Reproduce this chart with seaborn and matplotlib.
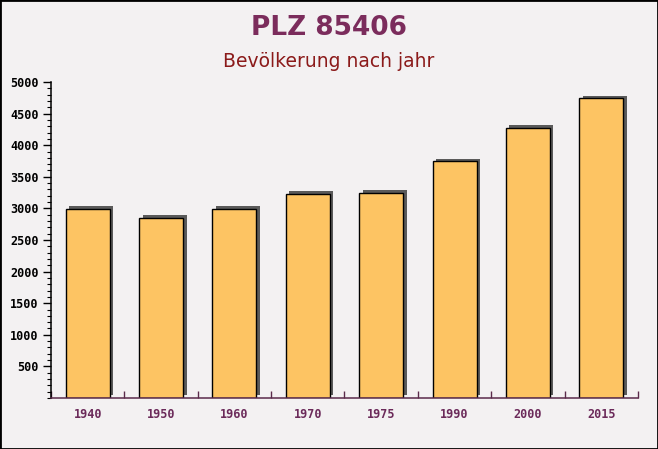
import matplotlib
matplotlib.use("Agg")
import matplotlib.pyplot as plt
import matplotlib.patheffects as pe
from matplotlib.ticker import MultipleLocator, FixedLocator
import seaborn as sns
import pandas as pd

years = ["1940", "1950", "1960", "1970", "1975", "1990", "2000", "2015"]
population = [2990, 2855, 2995, 3230, 3245, 3745, 4270, 4740]
y_ticks = [500, 1000, 1500, 2000, 2500, 3000, 3500, 4000, 4500, 5000]

df = pd.DataFrame({"Jahr": years, "Bevölkerung": population})

sns.set_theme(style="white")
plt.rcParams['font.family'] = ['DejaVu Sans']

bg = "#f3f1f2"
fig = plt.figure(figsize=(6.58, 4.49), dpi=100, facecolor=bg)
ax = fig.add_axes([0.0775, 0.1136, 0.892, 0.7038])
ax.set_facecolor(bg)

sns.barplot(data=df, x="Jahr", y="Bevölkerung", ax=ax, color="#fdc463",
            width=0.6, edgecolor="black", linewidth=1.0, saturation=1)
for p in ax.patches:
    p.set_path_effects([pe.SimplePatchShadow(offset=(2.5, 2.0), shadow_rgbFace="#5a5a5a", alpha=1.0),
                        pe.Normal()])

ax.set_ylim(0, 5000)
ax.set_xlim(-0.5, len(years) - 0.5)
ax.set_xlabel("")
ax.set_ylabel("")
ax.yaxis.set_major_locator(FixedLocator(y_ticks))
ax.yaxis.set_minor_locator(MultipleLocator(100))
ax.tick_params(axis="y", which="major", direction="out", length=6, width=1, color="black",
               left=True, labelsize=8.5, labelcolor="black", pad=3)
ax.tick_params(axis="y", which="minor", direction="out", length=3, width=0.8, color="black", left=True)
for lab in ax.get_yticklabels():
    lab.set_fontfamily("DejaVu Sans Mono")
    lab.set_fontweight("bold")

ax.xaxis.set_minor_locator(FixedLocator([i - 0.5 for i in range(len(years) + 1)]))
ax.tick_params(axis="x", which="major", length=0, labelsize=8.5, labelcolor="#6b2a5a", pad=7)
ax.tick_params(axis="x", which="minor", direction="in", length=5, width=1, color="#5a2a4a", bottom=True)
for lab in ax.get_xticklabels():
    lab.set_fontfamily("DejaVu Sans Mono")
    lab.set_fontweight("bold")

for s in ["top", "right"]:
    ax.spines[s].set_visible(False)
ax.spines["left"].set_color("black")
ax.spines["left"].set_linewidth(1.1)
ax.spines["bottom"].set_color("#5a2a4a")
ax.spines["bottom"].set_linewidth(1.1)

fig.text(0.5, 0.937, "PLZ 85406", ha="center", va="center", fontsize=19, fontweight="bold",
         color="#7b2c5c")
fig.text(0.5, 0.862, "Bevölkerung nach jahr", ha="center", va="center", fontsize=13.5,
         color="#8b1a1a")

fig.patches.append(plt.Rectangle((0, 0), 1, 1, transform=fig.transFigure, fill=False,
                                 edgecolor="black", linewidth=2))
fig.savefig("out.png", dpi=100, facecolor=bg)
